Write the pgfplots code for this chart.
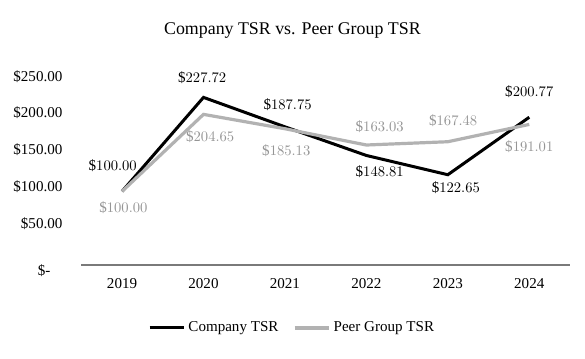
\documentclass[border=0pt]{standalone}
\usepackage{fontspec}
\setmainfont{Liberation Serif}
\usepackage{pgfplots}
\pgfplotsset{compat=1.18}
\definecolor{peer}{HTML}{B2B2B2}
\definecolor{peertext}{HTML}{959595}
\definecolor{axisgray}{HTML}{7A7A7A}
\newcommand{\labfont}{\fontsize{11.3}{13}\selectfont}
\newcommand{\lab}[5]{%
\addplot[draw=none, forget plot, mark=none, point meta=y,
  nodes near coords={\$\pgfmathprintnumber[fixed,fixed zerofill,precision=2,1000 sep={}]{\pgfplotspointmeta}},
  nodes near coords style={text=#3, anchor=center, xshift=#4, yshift=#5, font=\labfont, inner sep=0pt}]
  coordinates {(#1,#2)};}
\begin{document}
\begin{tikzpicture}
\path[use as bounding box] (-61pt,-70.5pt) rectangle (377.75pt,198.75pt);
\begin{axis}[
  scale only axis,
  width=366.5pt, height=138pt,
  xmin=2018.5, xmax=2024.5, ymin=0, ymax=250,
  xtick={2019,2020,2021,2022,2023,2024},
  xticklabels={2019,2020,2021,2022,2023,2024},
  ytick={0,50,100,150,200,250},
  yticklabels={\raisebox{-7.5pt}[\height][\depth]{\$-}\rule{9pt}{0pt},\$50.00,\$100.00,\$150.00,\$200.00,\$250.00},
  axis x line*=bottom, axis y line*=left,
  y axis line style={draw=none},
  x axis line style={draw=axisgray, line width=0.9pt, -},
  major tick length=0pt,
  font=\labfont,
  xticklabel style={anchor=center, yshift=-14.25pt, font=\labfont},
  yticklabel style={anchor=east, inner sep=0pt, xshift=-14pt, yshift=3.6pt, font=\labfont},
  title={Company TSR vs. Peer Group TSR},
  title style={at={(0.432,1)}, anchor=center, yshift=31.5pt, font=\fontsize{13.4}{15}\selectfont},
  legend columns=2,
  legend style={at={(0.432,-0.342)}, anchor=center, draw=none, fill=none, font=\labfont,
    /tikz/every even column/.append style={column sep=9pt},
    nodes={inner sep=2pt}},
  legend image code/.code={\draw[#1] (0pt,0pt) -- (26pt,0pt);},
  every legend entry/.append style={xshift=3pt},
  clip=false,
]
\addplot[black, line width=2.25pt, mark=none] coordinates {
(2019,100.00) (2020,227.72) (2021,187.75) (2022,148.81) (2023,122.65) (2024,200.77)};
\addlegendentry{Company TSR}
\addplot[peer, line width=2.4pt, mark=none] coordinates {
(2019,100.00) (2020,204.65) (2021,185.13) (2022,163.03) (2023,167.48) (2024,191.01)};
\addlegendentry{Peer Group TSR}
% company labels
\lab{2019}{100.00}{black}{-7pt}{19pt}
\lab{2020}{227.72}{black}{-1pt}{15pt}
\lab{2021}{187.75}{black}{2pt}{17pt}
\lab{2022}{148.81}{black}{10pt}{-12pt}
\lab{2023}{122.65}{black}{6pt}{-10pt}
\lab{2024}{200.77}{black}{0pt}{19pt}
% peer labels
\lab{2019}{100.00}{peertext}{1pt}{-12.5pt}
\lab{2020}{204.65}{peertext}{5pt}{-16.5pt}
\lab{2021}{185.13}{peertext}{1pt}{-16.5pt}
\lab{2022}{163.03}{peertext}{10pt}{13.5pt}
\lab{2023}{167.48}{peertext}{4pt}{16pt}
\lab{2024}{191.01}{peertext}{0pt}{-16.5pt}
\end{axis}
\end{tikzpicture}
\end{document}
